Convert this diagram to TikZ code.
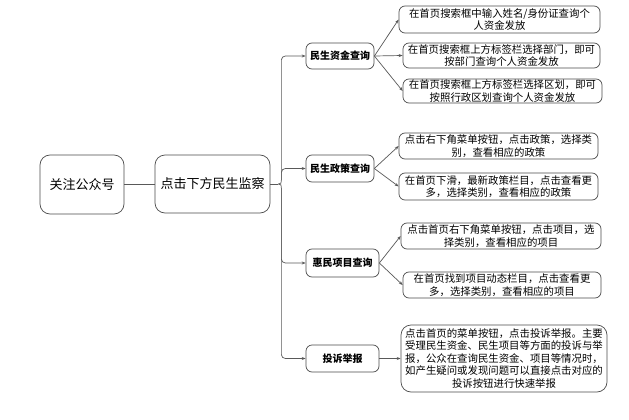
\documentclass[tikz,border=0pt]{standalone}
\usepackage{fontspec}
\newfontfamily\cjk{Noto Sans CJK SC}
\usetikzlibrary{arrows.meta,calc}
\begin{document}
\begin{tikzpicture}[x=1pt,y=-1pt,
  box/.style={draw=black!70,line width=0.7pt,rounded corners=6pt,align=center,inner sep=0pt,font=\cjk\fontsize{10.4}{12.5}\selectfont,text=black},
  bigbox/.style={box,rounded corners=10pt,font=\cjk\fontsize{13}{15}\selectfont},
  midbox/.style={box,font=\cjk\bfseries\fontsize{10}{12}\selectfont,text=black},
  conn/.style={draw=black!65,line width=0.7pt},
  arr/.style={conn,-{Stealth[length=4pt,width=3pt]}}]
\useasboundingbox (0,0) rectangle (629,420);
\fill[white] (0,0) rectangle (629,420);
\node[bigbox,minimum width=84pt,minimum height=59pt] (A) at (82,184.5) {关注公众号};
\node[bigbox,minimum width=115pt,minimum height=58pt] (B) at (212.5,184) {点击下方民生监察};
\node[midbox,minimum width=68pt,minimum height=26pt] (L1) at (340,56) {民生资金查询};
\node[midbox,minimum width=68pt,minimum height=27pt] (L2) at (340,168.5) {民生政策查询};
\node[midbox,minimum width=73pt,minimum height=28pt] (L3) at (342.5,263) {惠民项目查询};
\node[midbox,minimum width=73pt,minimum height=27pt] (L4) at (342.5,358.5) {投诉举报};
\node[box,minimum width=201pt,minimum height=27pt] (R1) at (499.5,19.5) {在首页搜索框中输入姓名/身份证查询个\\人资金发放};
\node[box,minimum width=197pt,minimum height=25pt] (R2) at (501.5,55.5) {在首页搜索框上方标签栏选择部门，即可\\按部门查询个人资金发放};
\node[box,minimum width=199pt,minimum height=24pt] (R3) at (502.5,91) {在首页搜索框上方标签栏选择区划，即可\\按照行政区划查询个人资金发放};
\node[box,minimum width=199pt,minimum height=26pt] (R4) at (498.5,146) {点击右下角菜单按钮，点击政策，选择类\\别，查看相应的政策};
\node[box,minimum width=199pt,minimum height=27pt] (R5) at (498.5,186.5) {在首页下滑，最新政策栏目，点击查看更\\多，选择类别，查看相应的政策};
\node[box,minimum width=200pt,minimum height=26pt] (R6) at (501,236) {点击首页右下角菜单按钮，点击项目，选\\择类别，查看相应的项目};
\node[box,minimum width=198pt,minimum height=26pt] (R7) at (502,285) {在首页找到项目动态栏目，点击查看更\\多，选择类别，查看相应的项目};
\node[box,rounded corners=10pt,minimum width=206pt,minimum height=67pt] (R8) at (504,358.5) {点击首页的菜单按钮，点击投诉举报。主要\\受理民生资金、民生项目等方面的投诉与举\\报，公众在查询民生资金、项目等情况时，\\如产生疑问或发现问题可以直接点击对应的\\投诉按钮进行快速举报};
% A to B
\draw[conn] (A.east) -- (A.east -| B.west);
% brace
\coordinate (tip) at ([xshift=8pt]B.east);
\draw[conn] (B.east) -- (tip);
\draw[conn] (tip) .. controls ($(tip)+(3,0)$) and ($(tip)+(3,-1)$) .. ($(tip)+(3,-4)$);
\draw[arr,rounded corners=4pt] ($(tip)+(3,-4)$) |- (L1.west);
\draw[arr,rounded corners=4pt] ($(tip)+(3,-4)$) |- (L2.west);
\draw[conn] (tip) .. controls ($(tip)+(3,0)$) and ($(tip)+(3,1)$) .. ($(tip)+(3,4)$);
\draw[arr,rounded corners=4pt] ($(tip)+(3,4)$) |- (L3.west);
\draw[arr,rounded corners=4pt] ($(tip)+(3,4)$) |- (L4.west);
% level 2 to 3
\draw[arr] (L1.east) -- (R1.west);
\draw[arr] (L1.east) -- (R2.west);
\draw[arr] (L1.east) -- (R3.west);
\draw[arr] (L2.east) -- (R4.west);
\draw[arr] (L2.east) -- (R5.west);
\draw[arr] (L3.east) -- (R6.west);
\draw[arr] (L3.east) -- (R7.west);
\draw[arr] (L4.east) -- (R8.west);
\end{tikzpicture}
\end{document}
